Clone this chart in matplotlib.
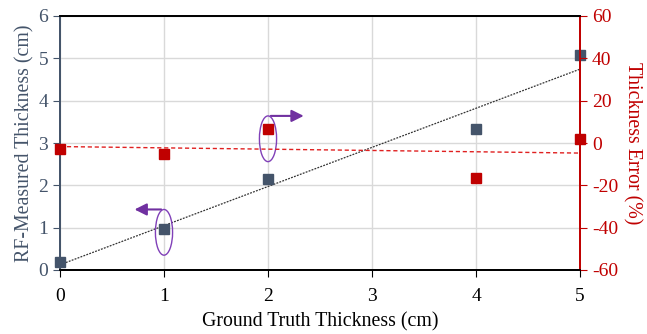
import matplotlib.pyplot as plt
import numpy as np
from matplotlib.patches import Ellipse

plt.rcParams['font.family'] = ['Liberation Serif', 'DejaVu Serif']
plt.rcParams['axes.unicode_minus'] = False

truth = np.array([0, 1, 2, 4, 5])
measured = np.array([0.19, 0.96, 2.14, 3.34, 5.08])
error = np.array([-2.6, -5.0, 6.4, -16.7, 2.1])

slate = '#44546A'
red = '#C00000'
purple = '#7030A0'

fig = plt.figure(figsize=(6.47, 3.34), dpi=100)
ax1 = fig.add_axes([60/647, 64/334, 520/647, 254/334])
ax2 = ax1.twinx()

ax1.set_xlim(0, 5)
ax1.set_ylim(0, 6)
ax2.set_ylim(-60, 60)

ax1.grid(True, color='#d9d9d9', lw=1)
ax1.set_axisbelow(True)

# trend lines
xx = np.array([0, 5])
p1 = np.polyfit(truth, measured, 1)
ax1.plot(xx, np.polyval(p1, xx), color='#333333', ls=(0, (1.5, 1)), lw=0.9, zorder=3)
p2 = np.polyfit(truth, error, 1)
ax2.plot(xx, np.polyval(p2, xx), color='#e02020', ls=(0, (3, 2)), lw=1.0, zorder=3)

ax1.plot(truth, measured, 's', color=slate, ms=7, clip_on=False, zorder=4)
ax2.plot(truth, error, 's', color=red, ms=7, clip_on=False, zorder=4)

# annotations
ax1.add_patch(Ellipse((1.0, 0.89), 0.165, 1.08, fill=False, ec='#8040b8', lw=1, zorder=5))
ax1.annotate('', xy=(0.69, 1.43), xytext=(1.0, 1.43),
             arrowprops=dict(arrowstyle='-|>', color=purple, lw=1.5, mutation_scale=18))
ax1.add_patch(Ellipse((2.0, 3.1), 0.165, 1.08, fill=False, ec='#8040b8', lw=1, zorder=5))
ax1.annotate('', xy=(2.37, 3.64), xytext=(2.0, 3.64),
             arrowprops=dict(arrowstyle='-|>', color=purple, lw=1.5, mutation_scale=18))

ax1.set_xticks([0, 1, 2, 3, 4, 5])
ax1.set_yticks(range(7))
ax2.set_yticks(range(-60, 61, 20))

ax1.tick_params(axis='x', labelsize=14, colors='black', direction='out', length=5, pad=8)
ax1.tick_params(axis='y', labelsize=14, colors=slate, direction='out', length=5)
ax2.tick_params(axis='y', labelsize=14, colors=red, direction='out', length=5)

for ax in (ax1, ax2):
    ax.spines['top'].set_color('black')
    ax.spines['bottom'].set_color('black')
    ax.spines['left'].set_color(slate)
    ax.spines['right'].set_color(red)
    for s in ax.spines.values():
        s.set_linewidth(1.3)

ax1.set_xlabel('Ground Truth Thickness (cm)', fontsize=14.3, labelpad=5)
ax1.set_ylabel('RF-Measured Thickness (cm)', fontsize=14.3, color=slate, labelpad=3)
ax2.set_ylabel('Thickness Error (%)', fontsize=14.3, color=red, rotation=270, labelpad=17)

fig.savefig('out.png', dpi=100)
